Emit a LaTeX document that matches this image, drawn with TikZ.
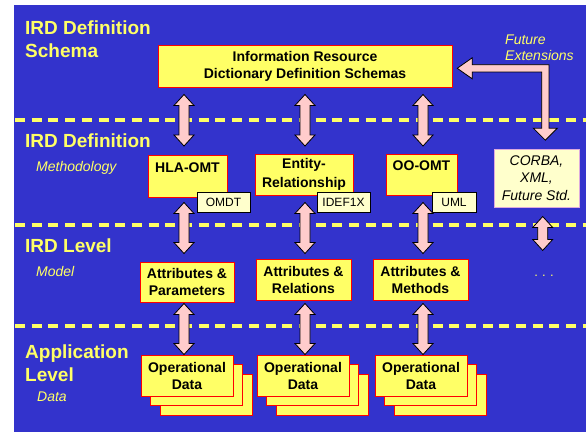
\documentclass[tikz,border=0pt]{standalone}
\usepackage{fontspec}
\setmainfont{Liberation Sans}
\usetikzlibrary{calc}
\definecolor{bgblue}{HTML}{3333CC}
\definecolor{ytext}{HTML}{FFFF66}
\definecolor{boxyellow}{HTML}{FFFF66}
\definecolor{boxred}{HTML}{FF0000}
\definecolor{arrowpink}{HTML}{FFCCCC}
\definecolor{tagfill}{HTML}{FFFFCC}
\definecolor{corbaborder}{HTML}{DDAADD}
\definecolor{shadowc}{HTML}{1A1A40}
\tikzset{
  title/.style={anchor=base west, inner sep=0pt, text=ytext, font=\bfseries\fontsize{19}{23}\selectfont},
  subt/.style={anchor=base west, inner sep=0pt, text=ytext, font=\itshape\fontsize{14}{17}\selectfont},
  ybox/.style={draw=boxred, fill=boxyellow, line width=1pt, inner sep=0pt, font=\bfseries\fontsize{14}{17}\selectfont},
  ml/.style={align=center},
  tagbox/.style={draw=black, fill=tagfill, line width=0.8pt, inner sep=0pt, minimum height=20, font=\fontsize{12}{14}\selectfont},
  divider/.style={draw=ytext, line width=3.3pt, dash pattern=on 10pt off 6.7pt},
  arrowfill/.style={fill=arrowpink, draw=black, line width=0.8pt, line join=miter},
  arrowshadow/.style={fill=shadowc},
}
% vertical double arrow polygon (canvas coords from let)
\newcommand\vdpoly{(\x1,\y1) -- (\x1+10pt,\y1-11pt) -- (\x1+5pt,\y1-11pt) -- (\x1+5pt,\y2+11pt) -- (\x1+10pt,\y2+11pt) -- (\x1,\y2) -- (\x1-10pt,\y2+11pt) -- (\x1-5pt,\y2+11pt) -- (\x1-5pt,\y1-11pt) -- (\x1-10pt,\y1-11pt) -- cycle}
\newcommand\vdarrow[2]{%
  \begin{scope}[xshift=1.2pt,yshift=-1.2pt]
    \fill[arrowshadow] let \p1=#1, \p2=#2 in \vdpoly;
  \end{scope}
  \filldraw[arrowfill] let \p1=#1, \p2=#2 in \vdpoly;
}
% L-shaped arrow: left tip #1, bottom tip #2
\newcommand\lpoly{(\x1,\y1) -- (\x1+15pt,\y1+10.5pt) -- (\x1+15pt,\y1+3.6pt) -- (\x2+3.6pt,\y1+3.6pt) -- (\x2+3.6pt,\y2+12pt) -- (\x2+12pt,\y2+12pt) -- (\x2,\y2) -- (\x2-12pt,\y2+12pt) -- (\x2-3.6pt,\y2+12pt) -- (\x2-3.6pt,\y1-3.6pt) -- (\x1+15pt,\y1-3.6pt) -- (\x1+15pt,\y1-10.5pt) -- cycle}
\newcommand\larrow[2]{%
  \begin{scope}[xshift=1.2pt,yshift=-1.2pt]
    \fill[arrowshadow] let \p1=#1, \p2=#2 in \lpoly;
  \end{scope}
  \filldraw[arrowfill] let \p1=#1, \p2=#2 in \lpoly;
}
\begin{document}
\begin{tikzpicture}[x=1pt,y=-1pt]
\useasboundingbox (0,0) rectangle (586,432);
\fill[white] (0,0) rectangle (586,432);
\fill[bgblue] (14,5) rectangle (586,432);

% dividers
\draw[divider] (15,120) -- (586,120);
\draw[divider] (15,225) -- (586,225);
\draw[divider] (15,326) -- (586,326);

% left titles
\node[title] (t1a) at (25,34) {IRD Definition};
\node[title] (t1b) at (25,57) {Schema};
\node[title] (t2) at (25,147) {IRD Definition};
\node[subt] (s2) at (36,171) {Methodology};
\node[title] (t3) at (25,252.7) {IRD Level};
\node[subt] (s3) at (36,276.7) {Model};
\node[title] (t4a) at (25,358) {Application};
\node[title] (t4b) at (25,381) {Level};
\node[subt] (s4) at (37,401.7) {Data};
\node[subt] (fe1) at (505,44) {Future};
\node[subt] (fe2) at (505,60.7) {Extensions};

% column coordinates
\coordinate (c1) at (184,0);
\coordinate (c2) at (305,0);
\coordinate (c3) at (423,0);
\coordinate (c4) at (542.7,0);

% top box
\node[ybox, ml, minimum width=294, minimum height=42] (top) at (305,66) {Information Resource\\Dictionary Definition Schemas};

% row 2
\node[ybox, minimum width=79, minimum height=42, text height=17.7pt, text depth=24.3pt] (hla) at (187.5,176) {HLA-OMT};
\node[ybox, ml, minimum width=98, minimum height=41, font=\bfseries\fontsize{14}{18.5}\selectfont] (er) at (304,174.5) {Entity-\\Relationship};
\node[ybox, minimum width=71, minimum height=41, text height=16.7pt, text depth=24.3pt] (oo) at (421.5,174.5) {OO-OMT};
\node[tagbox, minimum width=53] (omdt) at (223.5,202) {OMDT};
\node[tagbox, minimum width=53] (idef) at (343.5,202) {IDEF1X};
\node[tagbox, minimum width=44] (uml) at (454,202) {UML};
\node[draw=corbaborder, fill=tagfill, line width=1pt, inner sep=0pt, align=center, minimum width=85, minimum height=58, font=\itshape\fontsize{14}{17.5}\selectfont] (corba) at (536.5,178) {CORBA,\\XML,\\Future Std.};

% row 3
\node[ybox, ml, minimum width=94, minimum height=40] (attrp) at (187,282) {Attributes \&\\Parameters};
\node[ybox, ml, minimum width=95, minimum height=41] (attrr) at (303.5,279.5) {Attributes \&\\Relations};
\node[ybox, ml, minimum width=95, minimum height=41] (attrm) at (420.5,279.5) {Attributes \&\\Methods};
\node[anchor=base, inner sep=0pt, text=ytext, font=\fontsize{13}{15}\selectfont] (dots) at (544,276) {.\,\,.\,\,.};

% row 4 stacks
\foreach \n/\cx in {1/187, 2/303, 3/421} {
  \node[ybox, minimum width=92, minimum height=41] (op\n c) at (\cx+19.5,395) {};
  \node[ybox, minimum width=92, minimum height=41] (op\n b) at (\cx+9.7,385.2) {};
}
\node[ybox, ml, minimum width=92, minimum height=41] (op1) at (187,375.5) {Operational\\Data};
\node[ybox, ml, minimum width=92, minimum height=41] (op2) at (303,375.5) {Operational\\Data};
\node[ybox, ml, minimum width=92, minimum height=41] (op3) at (421,375.5) {Operational\\Data};

% arrows: top row
\vdarrow{($(c1|-top.south)+(0,7)$)}{($(c1|-hla.north)+(0,-8.5)$)}
\vdarrow{($(c2|-top.south)+(0,7)$)}{($(c2|-er.north)+(0,-7.5)$)}
\vdarrow{($(c3|-top.south)+(0,7)$)}{($(c3|-oo.north)+(0,-7.5)$)}
% middle row
\vdarrow{($(c1|-hla.south)+(0,5)$)}{($(c1|-attrp.north)+(0,-8)$)}
\vdarrow{($(c2|-er.south)+(0,7)$)}{($(c2|-attrr.north)+(0,-5)$)}
\vdarrow{($(c3|-oo.south)+(0,7)$)}{($(c3|-attrm.north)+(0,-5)$)}
% bottom row
\vdarrow{($(c1|-attrp.south)+(0,1)$)}{(c1|-op1.north)}
\vdarrow{($(c2|-attrr.south)+(0,3)$)}{(c2|-op2.north)}
\vdarrow{($(c3|-attrm.south)+(0,3)$)}{(c3|-op3.north)}
% future column
\vdarrow{($(c4|-corba.south)+(0,9)$)}{($(c4|-dots.north)+(0,-24)$)}
% future extensions L arrow
\larrow{($(top.east)+(4.7,2.3)$)}{($(corba.north)+(8.8,-8.3)$)}
\end{tikzpicture}
\end{document}
